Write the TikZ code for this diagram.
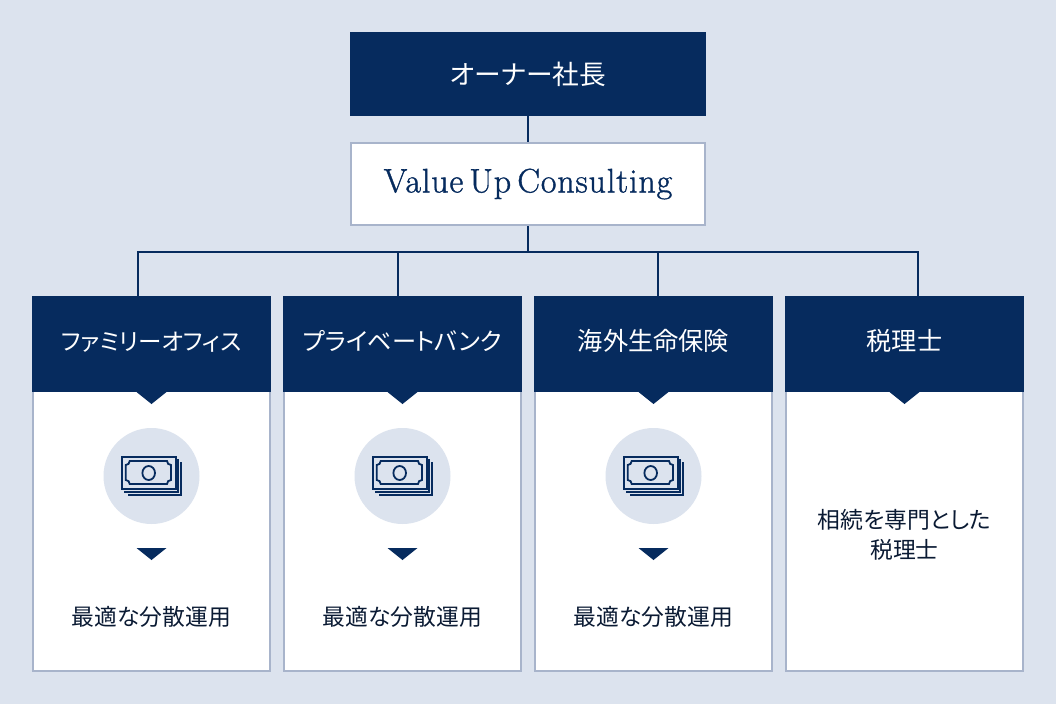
\documentclass[tikz,border=0pt]{standalone}
\usepackage{fontspec}
\usetikzlibrary{positioning}
\newfontfamily\jpfont[RawFeature=+palt]{Noto Sans CJK JP}
\newfontfamily\vucfont[FakeBold=1.1,LetterSpace=2.5,WordSpace=0.55]{Latin Modern Roman}
\definecolor{navy}{HTML}{062B5E}
\definecolor{pagebg}{HTML}{DCE3EE}
\definecolor{edgeblue}{HTML}{A8B4CB}
\definecolor{inkdark}{HTML}{0A1A33}
\newcommand{\sized}[1]{\fontsize{#1}{30pt}\selectfont}

\begin{document}
\begin{tikzpicture}[
        x=1pt, y=-1pt,
        headbox/.style={rectangle, fill=navy, text=white, minimum width=239pt, minimum height=96pt, outer sep=0pt, inner sep=0pt, text height=18pt, text depth=4.5pt, font=\jpfont\sized{24}},
        bodybox/.style={rectangle, draw=edgeblue, line width=2pt, fill=white, minimum width=237pt, minimum height=280pt, inner sep=0pt},
        coin/.style={circle, fill=pagebg, minimum size=96pt, inner sep=0pt, outer sep=0pt},
        bodytext/.style={align=center, text=inkdark, font=\jpfont\sized{22.8}},
        link/.style={draw=navy, line width=2pt},
        notch/.pic={\fill[navy] (-15,0) -- (15,0) -- (0,12) -- cycle;},
        money/.pic={
            \draw[navy, line width=2pt] (-29.8,-19.3) rectangle (24.5,12.7);
            \draw[navy, line width=1.8pt] (-21.8,-15) -- (15.5,-15) .. controls (15.7,-12.5) and (17,-11.2) .. (19.5,-11) -- (19.5,4) .. controls (17,4.2) and (15.7,5.5) .. (15.5,8) -- (-21.8,8) .. controls (-22,5.5) and (-23.3,4.2) .. (-25.8,4) -- (-25.8,-11) .. controls (-23.3,-11.2) and (-22,-12.5) .. (-21.8,-15) -- cycle;
            \draw[navy, line width=1.8pt] (-2.8,-3) ellipse [x radius=6.3, y radius=7];
            \draw[navy, line width=1.8pt] (26.8,-17) -- (26.8,15.7) -- (-27.5,15.7);
            \draw[navy, line width=1.8pt] (29.5,-14) -- (29.5,19) -- (-23.8,19);
        }
    ]
        % Background
        \fill[pagebg] (0,0) rectangle (1056,704);
        \useasboundingbox (0,0) rectangle (1056,704);

        % Top of the chart
        \node[rectangle, fill=navy, text=white, minimum width=356pt, minimum height=84pt, outer sep=0pt, inner sep=0pt, font=\jpfont\sized{26.7}] (owner) at (528,74) {オーナー社長};
        \node[rectangle, draw=edgeblue, line width=2pt, fill=white, text=navy, minimum width=354pt, minimum height=82pt, inner sep=0pt, font=\vucfont\sized{34}, below=26pt of owner] (vuc) {Value Up Consulting};

        % Column bodies
        \node[bodybox] (bodya) at (151.5,531) {};
        \node[bodybox, right=12pt of bodya] (bodyb) {};
        \node[bodybox, right=12pt of bodyb] (bodyc) {};
        \node[bodybox, right=12pt of bodyc] (bodyd) {};

        % Column heads
        \node[headbox, above=-2pt of bodya, font=\jpfont\sized{23.5}] (heada) {ファミリーオフィス};
        \node[headbox, above=-2pt of bodyb, font=\jpfont\sized{24.2}] (headb) {プライベートバンク};
        \node[headbox, above=-2pt of bodyc, font=\jpfont\sized{25.2}] (headc) {海外生命保険};
        \node[headbox, above=-2pt of bodyd, font=\jpfont\sized{25.2}] (headd) {税理士};

        % Notches under the heads
        \pic at (heada.south) {notch};
        \pic at (headb.south) {notch};
        \pic at (headc.south) {notch};
        \pic at (headd.south) {notch};

        % Money icons
        \node[coin, below=36pt of heada] (coina) {};
        \node[coin, below=36pt of headb] (coinb) {};
        \node[coin, below=36pt of headc] (coinc) {};
        \pic at (coina) {money};
        \pic at (coinb) {money};
        \pic at (coinc) {money};
        \pic at ([yshift=-24pt]coina.south) {notch};
        \pic at ([yshift=-24pt]coinb.south) {notch};
        \pic at ([yshift=-24pt]coinc.south) {notch};

        % Column texts
        \node[bodytext] (texta) at ([yshift=55pt]bodya.south) {最適な分散運用};
        \node[bodytext] (textb) at ([yshift=55pt]bodyb.south) {最適な分散運用};
        \node[bodytext] (textc) at ([yshift=55pt]bodyc.south) {最適な分散運用};
        \node[bodytext] (textd) at ([yshift=137pt]bodyd.south) {相続を専門とした\\税理士};

        % Connectors
        \coordinate (busa) at (138,252);
        \coordinate (busb) at (398,252);
        \coordinate (busc) at (658,252);
        \coordinate (busd) at (918,252);
        \draw[link] (owner) -- (vuc);
        \draw[link] (vuc.south) -- (vuc.south |- busa);
        \draw[link] (busa |- heada.north) -- (busa) -- (busd) -- (busd |- headd.north);
        \draw[link] (busb) -- (busb |- headb.north);
        \draw[link] (busc) -- (busc |- headc.north);
    \end{tikzpicture}
\end{document}
